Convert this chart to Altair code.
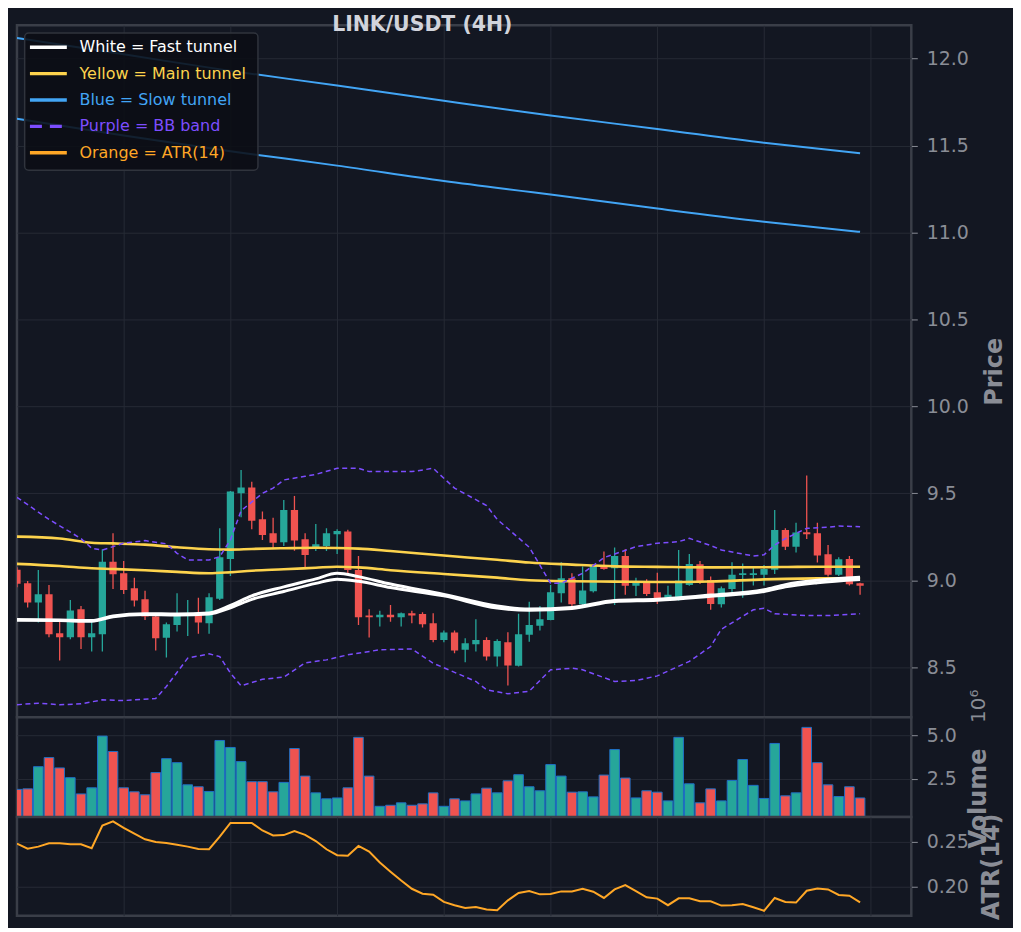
import altair as alt
import pandas as pd
import numpy as np

# ---------------- data ----------------
bar_index = list(range(80))
opens = [9.060, 8.983, 8.872, 8.920, 8.695, 8.672, 8.833, 8.672, 8.690, 9.107,
         9.040, 8.954, 8.891, 8.791, 8.669, 8.743, 8.800, 8.810, 8.753, 8.893,
         9.123, 9.500, 9.534, 9.351, 9.270, 9.218, 9.404, 9.236, 9.190, 9.197,
         9.264, 9.280, 9.059, 8.797, 8.787, 8.801, 8.787, 8.810, 8.806, 8.753,
         8.657, 8.699, 8.600, 8.632, 8.657, 8.561, 8.644, 8.508, 8.686, 8.738,
         8.772, 8.925, 9.011, 8.862, 8.937, 9.082, 9.069, 9.140, 8.969, 8.996,
         8.931, 8.887, 8.891, 8.973, 9.092, 9.002, 8.862, 8.950, 9.030, 9.030,
         9.031, 9.060, 9.289, 9.193, 9.276, 9.270, 9.149, 9.031, 9.123, 8.983]
highs = [9.075, 8.996, 9.059, 8.973, 8.772, 8.887, 8.852, 8.762, 9.178, 9.270,
         9.111, 9.015, 8.939, 8.800, 8.757, 8.925, 8.887, 8.900, 8.925, 9.299,
         9.513, 9.634, 9.567, 9.395, 9.360, 9.462, 9.485, 9.270, 9.324, 9.299,
         9.293, 9.290, 9.140, 8.833, 8.824, 8.858, 8.814, 8.824, 8.816, 8.810,
         8.711, 8.711, 8.667, 8.776, 8.672, 8.661, 8.701, 8.807, 8.876, 8.852,
         8.973, 9.103, 9.040, 9.079, 9.088, 9.165, 9.188, 9.178, 9.015, 9.006,
         9.043, 8.969, 9.174, 9.151, 9.111, 9.021, 8.964, 9.103, 9.096, 9.082,
         9.088, 9.404, 9.299, 9.331, 9.602, 9.331, 9.203, 9.132, 9.140, 8.985]
lows = [8.960, 8.843, 8.757, 8.672, 8.538, 8.661, 8.605, 8.590, 8.590, 8.950,
        8.921, 8.849, 8.772, 8.596, 8.556, 8.705, 8.680, 8.692, 8.692, 8.887,
        9.025, 9.362, 9.293, 9.232, 9.184, 9.197, 9.170, 9.075, 9.169, 9.169,
        9.151, 9.040, 8.743, 8.671, 8.734, 8.762, 8.734, 8.753, 8.728, 8.644,
        8.644, 8.580, 8.529, 8.590, 8.538, 8.504, 8.395, 8.504, 8.646, 8.711,
        8.770, 8.872, 8.849, 8.854, 8.930, 9.060, 8.858, 8.916, 8.910, 8.910,
        8.864, 8.880, 8.883, 8.969, 8.979, 8.830, 8.843, 8.929, 8.899, 8.970,
        8.970, 9.036, 9.174, 9.159, 9.238, 9.102, 9.022, 9.025, 8.970, 8.916]
closes = [8.980, 8.872, 8.920, 8.690, 8.672, 8.826, 8.672, 8.695, 9.107, 9.034,
          8.944, 8.883, 8.791, 8.667, 8.747, 8.810, 8.812, 8.757, 8.902, 9.132,
          9.510, 9.534, 9.343, 9.261, 9.216, 9.404, 9.228, 9.146, 9.207, 9.270,
          9.284, 9.059, 8.787, 8.787, 8.801, 8.787, 8.810, 8.797, 8.747, 8.657,
          8.699, 8.596, 8.638, 8.657, 8.561, 8.651, 8.510, 8.690, 8.743, 8.776,
          8.931, 9.011, 8.862, 8.941, 9.082, 9.065, 9.140, 8.969, 8.987, 8.921,
          8.883, 8.916, 8.998, 9.094, 8.987, 8.864, 8.954, 9.031, 9.040, 9.040,
          9.065, 9.289, 9.193, 9.274, 9.264, 9.142, 9.031, 9.121, 8.977, 8.969]
volume_millions = [1.89, 1.92, 3.19, 3.71, 3.12, 2.56, 1.63, 1.98, 4.94, 4.06,
                   1.98, 1.75, 1.58, 2.85, 3.65, 3.42, 2.15, 2.04, 1.77, 4.69,
                   4.29, 3.48, 2.33, 2.33, 1.75, 2.29, 4.23, 2.65, 1.69, 1.35,
                   1.40, 1.98, 4.87, 2.65, 0.92, 0.98, 1.12, 0.98, 1.06, 1.69,
                   0.92, 1.35, 1.23, 1.63, 1.96, 1.69, 2.38, 2.73, 2.04, 1.81,
                   3.31, 2.65, 1.73, 1.75, 1.46, 2.71, 4.17, 2.54, 1.40, 1.81,
                   1.73, 1.23, 4.87, 2.21, 1.12, 1.92, 1.23, 2.40, 3.60, 2.12,
                   1.37, 4.52, 1.52, 1.69, 5.44, 3.42, 2.15, 1.48, 2.04, 1.40]
atr14 = [0.2478, 0.2423, 0.2445, 0.2482, 0.2482, 0.2471, 0.2471, 0.2427, 0.2679, 0.2726,
         0.2653, 0.2588, 0.2526, 0.2496, 0.2485, 0.2467, 0.2445, 0.2420, 0.2416, 0.2555,
         0.2708, 0.2708, 0.2708, 0.2624, 0.2569, 0.2573, 0.2617, 0.2575, 0.2507, 0.2416,
         0.2350, 0.2343, 0.2453, 0.2391, 0.2270, 0.2168, 0.2069, 0.1978, 0.1923, 0.1912,
         0.1832, 0.1796, 0.1766, 0.1777, 0.1748, 0.1741, 0.1850, 0.1931, 0.1953, 0.1916,
         0.1920, 0.1949, 0.1949, 0.1978, 0.1945, 0.1876, 0.1971, 0.2018, 0.1953, 0.1883,
         0.1869, 0.1796, 0.1872, 0.1872, 0.1839, 0.1839, 0.1792, 0.1796, 0.1810, 0.1774,
         0.1734, 0.1876, 0.1832, 0.1825, 0.1956, 0.1982, 0.1971, 0.1909, 0.1901, 0.1828]

tunnel_idx = [0, 4, 7, 9, 12, 15, 18, 20, 22, 25, 28, 30, 32, 35, 40, 45, 48, 52, 56, 60, 65, 70, 72, 75, 79]
fast_upper = [8.775, 8.772, 8.768, 8.795, 8.808, 8.806, 8.812, 8.855, 8.910, 8.962, 9.008, 9.040, 9.021,
              8.978, 8.918, 8.852, 8.834, 8.843, 8.884, 8.891, 8.915, 8.945, 8.975, 9.000, 9.017]
fast_lower = [8.770, 8.768, 8.764, 8.790, 8.803, 8.800, 8.806, 8.842, 8.890, 8.935, 8.982, 9.006, 8.994,
              8.958, 8.910, 8.840, 8.828, 8.838, 8.878, 8.885, 8.908, 8.935, 8.962, 8.986, 9.005]
main_upper = [9.251, 9.240, 9.216, 9.212, 9.205, 9.190, 9.178, 9.176, 9.180, 9.184, 9.187, 9.186, 9.182,
              9.168, 9.142, 9.118, 9.102, 9.090, 9.080, 9.077, 9.074, 9.075, 9.076, 9.078, 9.078]
main_lower = [9.094, 9.082, 9.069, 9.065, 9.058, 9.048, 9.040, 9.046, 9.055, 9.063, 9.072, 9.078, 9.074,
              9.058, 9.036, 9.015, 9.000, 8.994, 8.992, 8.990, 8.993, 9.005, 9.008, 9.011, 9.012]
slow_idx = [0, 10, 20, 30, 40, 50, 60, 70, 79]
slow_upper = [12.119, 12.025, 11.930, 11.846, 11.758, 11.673, 11.596, 11.517, 11.456]
slow_lower = [11.654, 11.558, 11.468, 11.385, 11.296, 11.219, 11.138, 11.062, 11.004]
bb_upper_idx = [0, 3, 6, 7, 8, 10, 12, 14, 15, 16, 18, 19, 20, 21, 23, 24, 25, 27, 28, 30, 32, 33, 37,
                39, 41, 44, 45, 48, 50, 51, 53, 55, 58, 60, 62, 63, 65, 66, 68, 69, 70, 71, 72, 74, 76, 77, 79]
bb_upper = [9.477, 9.350, 9.240, 9.184, 9.174, 9.213, 9.228, 9.210, 9.155, 9.117, 9.117, 9.136, 9.232,
            9.400, 9.500, 9.530, 9.577, 9.598, 9.609, 9.644, 9.644, 9.625, 9.625, 9.644, 9.530, 9.430,
            9.350, 9.190, 8.983, 8.983, 9.040, 9.130, 9.193, 9.213, 9.222, 9.241, 9.200, 9.174, 9.151,
            9.140, 9.146, 9.203, 9.240, 9.299, 9.305, 9.312, 9.308]
bb_lower_idx = [0, 2, 4, 6, 8, 10, 13, 14, 16, 18, 19, 20, 21, 23, 25, 27, 29, 31, 34, 37, 39, 43, 44,
                46, 48, 50, 52, 53, 55, 56, 58, 60, 63, 65, 66, 69, 70, 71, 74, 76, 79]
bb_lower = [8.284, 8.293, 8.284, 8.289, 8.312, 8.308, 8.320, 8.389, 8.552, 8.577, 8.561, 8.466, 8.393,
            8.430, 8.443, 8.525, 8.542, 8.571, 8.600, 8.605, 8.523, 8.418, 8.370, 8.347, 8.362, 8.485,
            8.494, 8.485, 8.440, 8.418, 8.423, 8.450, 8.533, 8.619, 8.718, 8.830, 8.839, 8.807, 8.797,
            8.797, 8.807]

legend_labels = ["White = Fast tunnel", "Yellow = Main tunnel", "Blue = Slow tunnel",
                 "Purple = BB band", "Orange = ATR(14)"]

# ---------------- styling ----------------
BG = "#131722"
GRID = "#262a35"
SPINE = "#3a3e48"
AXIS_TXT = "#8a8d96"
TITLE_TXT = "#d1d4dc"
UP = "#26a69a"
DOWN = "#ef5350"
WHITE = "#ffffff"
YELLOW = "#fdd34d"
BLUE = "#42a5f5"
PURPLE = "#7c4dff"
ORANGE = "#ffa726"
FONT = "DejaVu Sans"

W = 897
H_PRICE, H_VOL, H_ATR = 694, 100, 99
XDOM = [0, 83.8]

candles = pd.DataFrame({"i": bar_index, "open": opens, "high": highs, "low": lows,
                        "close": closes, "vol": volume_millions, "atr": atr14})
candles["dir"] = np.where(candles["close"] >= candles["open"], "up", "down")

dir_color = alt.Color("dir:N", scale=alt.Scale(domain=["up", "down"], range=[UP, DOWN]), legend=None)


def xaxis():
    return alt.Axis(values=list(range(10, 81, 10)), labels=False, ticks=False, domain=False,
                    grid=True, gridColor=GRID, gridWidth=1, title=None)


def xenc(field="i"):
    return alt.X(f"{field}:Q", scale=alt.Scale(domain=XDOM, nice=False, zero=False), axis=xaxis())


def yaxis(values, fmt, title, tx, ty):
    return alt.Axis(orient="right", values=values, format=fmt, title=title, titleAngle=270,
                    titleX=tx, titleY=ty, titleAlign="center", titleBaseline="middle",
                    titleFontSize=24, titleFontWeight="bold", titleColor=AXIS_TXT, titleFont=FONT,
                    labelFontSize=19, labelColor=AXIS_TXT, labelFont=FONT, tickSize=6,
                    tickColor=AXIS_TXT, tickWidth=1, labelPadding=9, grid=True, gridColor=GRID,
                    gridWidth=1, domain=False)


price_scale = alt.Scale(domain=[8.212, 12.192], nice=False, zero=False)
price_axis = yaxis([8.5, 9.0, 9.5, 10.0, 10.5, 11.0, 11.5, 12.0], ".1f", "Price", 83, H_PRICE / 2)

base = alt.Chart(candles)

wicks = base.mark_rule(strokeWidth=1.3, clip=True).encode(
    x=xenc(), y=alt.Y("low:Q", scale=price_scale, axis=price_axis), y2="high:Q", color=dir_color)

bodies = base.transform_calculate(x0="datum.i - 0.34", x1="datum.i + 0.34").mark_rect(clip=True).encode(
    x=xenc("x0"), x2="x1:Q", y=alt.Y("open:Q", scale=price_scale, axis=price_axis), y2="close:Q",
    color=dir_color)


def series_df(name, xs, ys):
    return pd.DataFrame({"i": xs, "v": ys, "s": name})


slow_df = pd.concat([series_df("su", slow_idx, slow_upper), series_df("sl", slow_idx, slow_lower)])
main_df = pd.concat([series_df("mu", tunnel_idx, main_upper), series_df("ml", tunnel_idx, main_lower)])
fast_df = pd.concat([series_df("fu", tunnel_idx, fast_upper), series_df("fl", tunnel_idx, fast_lower)])
bb_df = pd.concat([series_df("bu", bb_upper_idx, bb_upper), series_df("bl", bb_lower_idx, bb_lower)])


def line_layer(df, color, width, interp, dash=None):
    kw = dict(color=color, strokeWidth=width, interpolate=interp, clip=True)
    if dash:
        kw["strokeDash"] = dash
    return alt.Chart(df).mark_line(**kw).encode(
        x=xenc(), y=alt.Y("v:Q", scale=price_scale, axis=price_axis), detail="s:N", order="i:Q")


slow_lines = line_layer(slow_df, BLUE, 2, "monotone")
main_lines = line_layer(main_df, YELLOW, 2.6, "monotone")
fast_lines = line_layer(fast_df, WHITE, 3, "monotone")
bb_lines = line_layer(bb_df, PURPLE, 1.5, "linear", [5, 3.5])

# legend box (drawn by hand so each label can carry its own colour)
leg_df = pd.DataFrame({"label": legend_labels, "k": list(range(5)),
                       "col": [WHITE, YELLOW, BLUE, PURPLE, ORANGE],
                       "style": ["solid", "solid", "solid", "dash", "solid"]})
leg_box = alt.Chart(pd.DataFrame({"a": [0]})).mark_rect(
    fill="#0b0e14", fillOpacity=0.88, stroke="#30343d", strokeWidth=1.5, cornerRadius=4).encode(
    x=alt.value(7.7), x2=alt.value(241.7), y=alt.value(7.7), y2=alt.value(145.3))
leg_lines = alt.Chart(leg_df).transform_calculate(ly="22 + 26.45 * datum.k").mark_rule(strokeWidth=3.5).encode(
    x=alt.value(13), x2=alt.value(50), y=alt.Y("ly:Q", scale=None),
    color=alt.Color("col:N", scale=None),
    strokeDash=alt.StrokeDash("style:N", scale=alt.Scale(domain=["solid", "dash"], range=[[1, 0], [12, 8]]),
                              legend=None))
leg_text = alt.Chart(leg_df).transform_calculate(ly="22 + 26.45 * datum.k").mark_text(
    align="left", baseline="middle", fontSize=16, font=FONT).encode(
    x=alt.value(62.7), y=alt.Y("ly:Q", scale=None), text="label:N", color=alt.Color("col:N", scale=None))

title_txt = alt.Chart(pd.DataFrame({"t": ["LINK/USDT (4H)"]})).mark_text(
    align="center", baseline="middle", fontSize=20.5, fontWeight="bold", font=FONT, color=TITLE_TXT).encode(
    x=alt.value(406.5), y=alt.value(-0.5), text="t:N")

price = alt.layer(wicks, bodies, slow_lines, main_lines, fast_lines, bb_lines,
                  leg_box, leg_lines, leg_text, title_txt).properties(width=W, height=H_PRICE)

# volume panel
vol_scale = alt.Scale(domain=[0.31, 6.02], nice=False, zero=False)
vol_axis = yaxis([2.5, 5.0], ".1f", "Volume", 67.5, 81)
vol_bars = base.transform_calculate(x0="datum.i - 0.45", x1="datum.i + 0.45", zero="0").mark_rect(
    clip=True, stroke="#1f6fc5", strokeWidth=1).encode(
    x=xenc("x0"), x2="x1:Q", y=alt.Y("vol:Q", scale=vol_scale, axis=vol_axis), y2="zero:Q",
    color=dir_color)
vol_exp = alt.Chart(pd.DataFrame({"t": ["10\u2076"]})).mark_text(
    angle=270, align="center", baseline="middle", fontSize=20, font=FONT, color=AXIS_TXT).encode(
    x=alt.value(965), y=alt.value(-11), text="t:N")
volume = alt.layer(vol_bars, vol_exp).properties(width=W, height=H_VOL)

# ATR panel
atr_scale = alt.Scale(domain=[0.168, 0.2774], nice=False, zero=False)
atr_axis = yaxis([0.20, 0.25], ".2f", "ATR(14)", 80.5, H_ATR / 2)
atr = base.mark_line(color=ORANGE, strokeWidth=2, clip=True).encode(
    x=xenc(), y=alt.Y("atr:Q", scale=atr_scale, axis=atr_axis)).properties(width=W, height=H_ATR)

chart = alt.vconcat(price, volume, atr, spacing=0, bounds="flush").properties(
    background=BG, padding={"left": 7, "top": 4, "right": 5, "bottom": 5}
).configure(font=FONT).configure_view(fill=BG, stroke=SPINE, strokeWidth=2.5)

chart.save("out.html", embed_options={"renderer": "svg", "actions": False})
